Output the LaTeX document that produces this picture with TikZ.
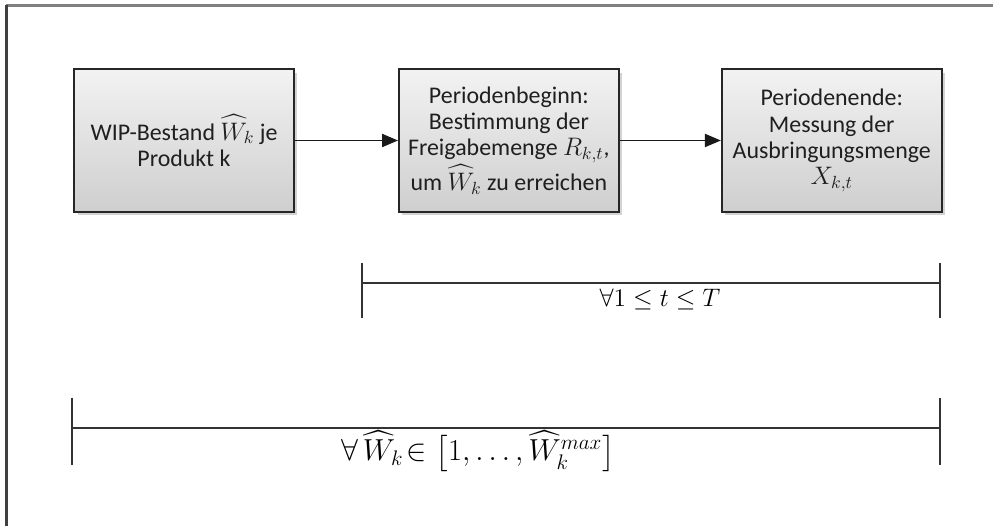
\documentclass[tikz,border=0pt]{standalone}
\usepackage{amsmath}
\usepackage{fontspec}
\setmainfont{Carlito}
\usetikzlibrary{positioning,arrows.meta,shadows}

\tikzset{
  prozess/.style={draw=black!85, line width=1.1pt, top color=gray!10, bottom color=gray!38,
    drop shadow={shadow xshift=0.07cm, shadow yshift=-0.07cm, opacity=0.35},
    minimum width=4.4cm, minimum height=2.86cm, align=center, text=black!88,
    font=\fontsize{13.6}{14.9}\selectfont},
  pfeil/.style={-{Triangle[length=9pt,width=7.5pt]}, line width=0.7pt, black!90},
  klammer/.style={line width=0.6pt, black!80}
}

\begin{document}
\begin{tikzpicture}[x=0.02cm,y=-0.02cm]
\useasboundingbox (0,0) rectangle (993,526);
% Rahmen oben und links
\draw[gray, line width=1.2pt] (6,5.5) -- (993,5.5);
\draw[black!75, line width=1.2pt] (6.5,5) -- (6.5,526);

% Prozessschritte
\node[prozess] (wip) at (184,140.5) {WIP-Bestand $\widehat{W}_k$ je\\ Produkt k};
\node[prozess, right=2.06cm of wip] (beginn) {Periodenbeginn:\\ Bestimmung der\\ Freigabemenge $R_{k,t}$,\\ um $\widehat{W}_k$ zu erreichen};
\node[prozess, right=2.02cm of beginn] (ende) {Periodenende:\\ Messung der\\ Ausbringungsmenge\\ $X_{k,t}$};
\draw[pfeil] (wip) -- (beginn);
\draw[pfeil] (beginn) -- (ende);

% Schleife ueber die Perioden
\draw[klammer] (362,263) -- (362,318) (940,263) -- (940,318) (362,283) -- (940,283);
\node[font=\Large] (perioden) at (660,299) {$\forall 1 \le t \le T$};

% Schleife ueber die WIP-Bestaende
\draw[klammer] (72,398) -- (72,465) (940,398) -- (940,465) (72,428) -- (940,428);
\node[font=\LARGE] (bestaende) at (478,451) {$\forall\,\widehat{W}_k\!\in \bigl[1,\dots,\widehat{W}_k^{max}\bigr]$};
\end{tikzpicture}
\end{document}
